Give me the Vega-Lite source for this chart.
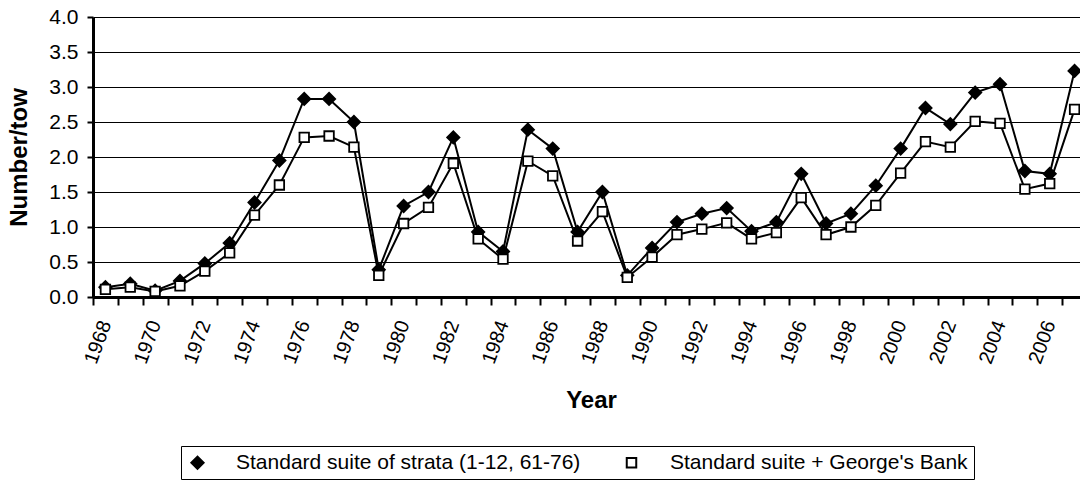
{
  "$schema": "https://vega.github.io/schema/vega-lite/v6.json",
  "width": 994,
  "height": 280,
  "autosize": "none",
  "padding": {"left": 93, "top": 17, "right": 0, "bottom": 192},
  "background": "white",
  "config": {
    "font": "Liberation Sans",
    "view": {"stroke": null}
  },
  "data": {
    "values": [
      {"year": 1968, "series": "Standard suite of strata (1-12, 61-76)", "value": 0.14},
      {"year": 1969, "series": "Standard suite of strata (1-12, 61-76)", "value": 0.19},
      {"year": 1970, "series": "Standard suite of strata (1-12, 61-76)", "value": 0.09},
      {"year": 1971, "series": "Standard suite of strata (1-12, 61-76)", "value": 0.23},
      {"year": 1972, "series": "Standard suite of strata (1-12, 61-76)", "value": 0.48},
      {"year": 1973, "series": "Standard suite of strata (1-12, 61-76)", "value": 0.77},
      {"year": 1974, "series": "Standard suite of strata (1-12, 61-76)", "value": 1.35},
      {"year": 1975, "series": "Standard suite of strata (1-12, 61-76)", "value": 1.95},
      {"year": 1976, "series": "Standard suite of strata (1-12, 61-76)", "value": 2.83},
      {"year": 1977, "series": "Standard suite of strata (1-12, 61-76)", "value": 2.83},
      {"year": 1978, "series": "Standard suite of strata (1-12, 61-76)", "value": 2.50},
      {"year": 1979, "series": "Standard suite of strata (1-12, 61-76)", "value": 0.39},
      {"year": 1980, "series": "Standard suite of strata (1-12, 61-76)", "value": 1.30},
      {"year": 1981, "series": "Standard suite of strata (1-12, 61-76)", "value": 1.50},
      {"year": 1982, "series": "Standard suite of strata (1-12, 61-76)", "value": 2.28},
      {"year": 1983, "series": "Standard suite of strata (1-12, 61-76)", "value": 0.93},
      {"year": 1984, "series": "Standard suite of strata (1-12, 61-76)", "value": 0.65},
      {"year": 1985, "series": "Standard suite of strata (1-12, 61-76)", "value": 2.39},
      {"year": 1986, "series": "Standard suite of strata (1-12, 61-76)", "value": 2.12},
      {"year": 1987, "series": "Standard suite of strata (1-12, 61-76)", "value": 0.93},
      {"year": 1988, "series": "Standard suite of strata (1-12, 61-76)", "value": 1.50},
      {"year": 1989, "series": "Standard suite of strata (1-12, 61-76)", "value": 0.31},
      {"year": 1990, "series": "Standard suite of strata (1-12, 61-76)", "value": 0.70},
      {"year": 1991, "series": "Standard suite of strata (1-12, 61-76)", "value": 1.07},
      {"year": 1992, "series": "Standard suite of strata (1-12, 61-76)", "value": 1.19},
      {"year": 1993, "series": "Standard suite of strata (1-12, 61-76)", "value": 1.27},
      {"year": 1994, "series": "Standard suite of strata (1-12, 61-76)", "value": 0.94},
      {"year": 1995, "series": "Standard suite of strata (1-12, 61-76)", "value": 1.07},
      {"year": 1996, "series": "Standard suite of strata (1-12, 61-76)", "value": 1.76},
      {"year": 1997, "series": "Standard suite of strata (1-12, 61-76)", "value": 1.05},
      {"year": 1998, "series": "Standard suite of strata (1-12, 61-76)", "value": 1.19},
      {"year": 1999, "series": "Standard suite of strata (1-12, 61-76)", "value": 1.59},
      {"year": 2000, "series": "Standard suite of strata (1-12, 61-76)", "value": 2.12},
      {"year": 2001, "series": "Standard suite of strata (1-12, 61-76)", "value": 2.70},
      {"year": 2002, "series": "Standard suite of strata (1-12, 61-76)", "value": 2.47},
      {"year": 2003, "series": "Standard suite of strata (1-12, 61-76)", "value": 2.92},
      {"year": 2004, "series": "Standard suite of strata (1-12, 61-76)", "value": 3.04},
      {"year": 2005, "series": "Standard suite of strata (1-12, 61-76)", "value": 1.80},
      {"year": 2006, "series": "Standard suite of strata (1-12, 61-76)", "value": 1.76},
      {"year": 2007, "series": "Standard suite of strata (1-12, 61-76)", "value": 3.23},
      {"year": 1968, "series": "Standard suite + George's Bank", "value": 0.11},
      {"year": 1969, "series": "Standard suite + George's Bank", "value": 0.14},
      {"year": 1970, "series": "Standard suite + George's Bank", "value": 0.08},
      {"year": 1971, "series": "Standard suite + George's Bank", "value": 0.16},
      {"year": 1972, "series": "Standard suite + George's Bank", "value": 0.37},
      {"year": 1973, "series": "Standard suite + George's Bank", "value": 0.63},
      {"year": 1974, "series": "Standard suite + George's Bank", "value": 1.17},
      {"year": 1975, "series": "Standard suite + George's Bank", "value": 1.60},
      {"year": 1976, "series": "Standard suite + George's Bank", "value": 2.28},
      {"year": 1977, "series": "Standard suite + George's Bank", "value": 2.30},
      {"year": 1978, "series": "Standard suite + George's Bank", "value": 2.14},
      {"year": 1979, "series": "Standard suite + George's Bank", "value": 0.31},
      {"year": 1980, "series": "Standard suite + George's Bank", "value": 1.05},
      {"year": 1981, "series": "Standard suite + George's Bank", "value": 1.28},
      {"year": 1982, "series": "Standard suite + George's Bank", "value": 1.91},
      {"year": 1983, "series": "Standard suite + George's Bank", "value": 0.83},
      {"year": 1984, "series": "Standard suite + George's Bank", "value": 0.54},
      {"year": 1985, "series": "Standard suite + George's Bank", "value": 1.94},
      {"year": 1986, "series": "Standard suite + George's Bank", "value": 1.73},
      {"year": 1987, "series": "Standard suite + George's Bank", "value": 0.80},
      {"year": 1988, "series": "Standard suite + George's Bank", "value": 1.22},
      {"year": 1989, "series": "Standard suite + George's Bank", "value": 0.28},
      {"year": 1990, "series": "Standard suite + George's Bank", "value": 0.57},
      {"year": 1991, "series": "Standard suite + George's Bank", "value": 0.89},
      {"year": 1992, "series": "Standard suite + George's Bank", "value": 0.97},
      {"year": 1993, "series": "Standard suite + George's Bank", "value": 1.06},
      {"year": 1994, "series": "Standard suite + George's Bank", "value": 0.83},
      {"year": 1995, "series": "Standard suite + George's Bank", "value": 0.92},
      {"year": 1996, "series": "Standard suite + George's Bank", "value": 1.42},
      {"year": 1997, "series": "Standard suite + George's Bank", "value": 0.89},
      {"year": 1998, "series": "Standard suite + George's Bank", "value": 1.00},
      {"year": 1999, "series": "Standard suite + George's Bank", "value": 1.31},
      {"year": 2000, "series": "Standard suite + George's Bank", "value": 1.77},
      {"year": 2001, "series": "Standard suite + George's Bank", "value": 2.22},
      {"year": 2002, "series": "Standard suite + George's Bank", "value": 2.14},
      {"year": 2003, "series": "Standard suite + George's Bank", "value": 2.51},
      {"year": 2004, "series": "Standard suite + George's Bank", "value": 2.48},
      {"year": 2005, "series": "Standard suite + George's Bank", "value": 1.54},
      {"year": 2006, "series": "Standard suite + George's Bank", "value": 1.62},
      {"year": 2007, "series": "Standard suite + George's Bank", "value": 2.68}
    ]
  },
  "encoding": {
    "x": {
      "field": "year",
      "type": "quantitative",
      "scale": {"domain": [1967.5, 2007.5], "nice": false, "zero": false},
      "axis": {
        "values": [1967.5, 1968.5, 1969.5, 1970.5, 1971.5, 1972.5, 1973.5, 1974.5, 1975.5, 1976.5, 1977.5, 1978.5, 1979.5, 1980.5, 1981.5, 1982.5, 1983.5, 1984.5, 1985.5, 1986.5, 1987.5, 1988.5, 1989.5, 1990.5, 1991.5, 1992.5, 1993.5, 1994.5, 1995.5, 1996.5, 1997.5, 1998.5, 1999.5, 2000.5, 2001.5, 2002.5, 2003.5, 2004.5, 2005.5, 2006.5, 2007.5],
        "labelExpr": "(datum.value - 1967.5) % 2 === 0 && datum.value < 2007 ? '' + (datum.value + 0.5) : ''",
        "labelOffset": 12.4,
        "labelAngle": -70,
        "labelAlign": "right",
        "labelBaseline": "middle",
        "labelPadding": 16,
        "labelFontSize": 20,
        "labelColor": "black",
        "labelOverlap": false,
        "labelBound": false,
        "labelFlush": false,
        "grid": false,
        "tickSize": 8,
        "tickWidth": 2,
        "tickColor": "black",
        "domainColor": "black",
        "domainWidth": 3,
        "title": "Year",
        "titleFontSize": 24,
        "titleFontWeight": "bold",
        "titleColor": "black",
        "titleX": 498,
        "titleY": 110,
        "titleAlign": "center",
        "titleBaseline": "alphabetic"
      }
    },
    "y": {
      "field": "value",
      "type": "quantitative",
      "scale": {"domain": [0, 4], "nice": false},
      "axis": {
        "values": [0, 0.5, 1, 1.5, 2, 2.5, 3, 3.5, 4],
        "format": ".1f",
        "labelFontSize": 21,
        "labelColor": "black",
        "labelPadding": 9,
        "tickSize": 6,
        "tickWidth": 2,
        "tickColor": "black",
        "domainColor": "black",
        "domainWidth": 3,
        "grid": true,
        "gridColor": "black",
        "gridWidth": 1,
        "title": "Number/tow",
        "titleFontSize": 24,
        "titleFontWeight": "bold",
        "titleColor": "black",
        "titleX": -74,
        "titleY": 140,
        "titleAngle": -90,
        "titleAlign": "center",
        "titleBaseline": "middle"
      }
    }
  },
  "layer": [
    {
      "mark": {"type": "line", "color": "black", "strokeWidth": 2},
      "encoding": {"detail": {"field": "series", "type": "nominal"}}
    },
    {
      "mark": {"type": "point", "filled": true, "stroke": "black", "strokeWidth": 1.8, "opacity": 1},
      "encoding": {
        "shape": {
          "field": "series",
          "type": "nominal",
          "scale": {"domain": ["Standard suite of strata (1-12, 61-76)", "Standard suite + George's Bank"], "range": ["diamond", "square"]},
          "legend": {
            "orient": "none",
            "legendX": 88,
            "legendY": 429,
            "direction": "horizontal",
            "title": null,
            "labelFontSize": 21,
            "labelColor": "black",
            "labelLimit": 0,
            "strokeColor": "black",
            "fillColor": "white",
            "padding": 6,
            "labelOffset": 28,
            "columnPadding": 40,
            "symbolStrokeColor": "black",
            "symbolStrokeWidth": 2
          }
        },
        "fill": {
          "field": "series",
          "type": "nominal",
          "scale": {"domain": ["Standard suite of strata (1-12, 61-76)", "Standard suite + George's Bank"], "range": ["black", "white"]}
        },
        "size": {
          "field": "series",
          "type": "nominal",
          "scale": {"domain": ["Standard suite of strata (1-12, 61-76)", "Standard suite + George's Bank"], "range": [150, 90]}
        }
      }
    }
  ]
}
